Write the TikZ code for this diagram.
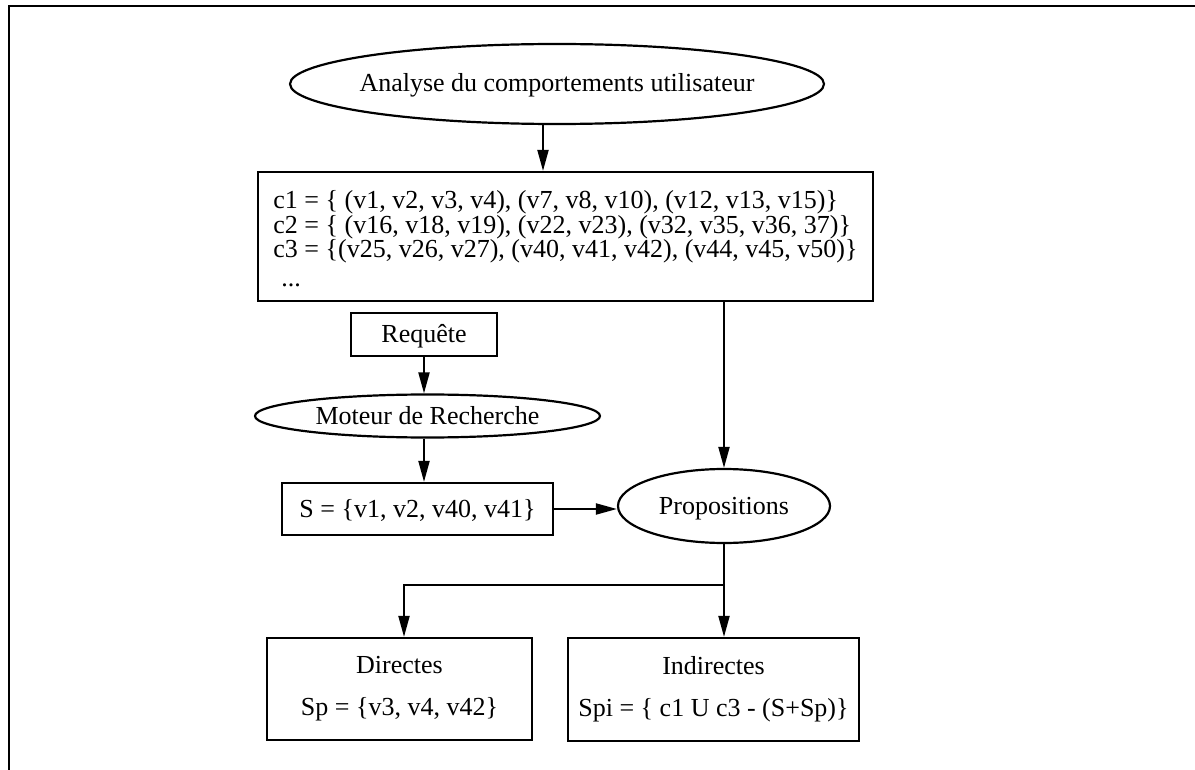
\documentclass[tikz,border=0pt]{standalone}
\usepackage{fontspec}
\setmainfont{Liberation Serif}
\usetikzlibrary{arrows.meta,shapes.geometric}

\begin{document}
\begin{tikzpicture}[x=1pt,y=-1pt,
  every node/.style={font=\fontsize{26}{22}\selectfont, inner sep=0pt},
  oneline/.style={text height=20pt, text depth=4pt},
  boxnode/.style={draw, rectangle, line width=2.2pt},
  ovalnode/.style={draw, ellipse, line width=2.2pt, oneline},
  arr/.style={-{Triangle[length=21pt,width=11pt]}, line width=2pt},
  link/.style={line width=2pt}]
\useasboundingbox (0,0) rectangle (1195,770);

% outer frame (top and left edges only)
\draw[line width=2.8pt] (9,770) -- (9,6) -- (1195,6);

% nodes
\node[ovalnode, minimum width=534, minimum height=80] (ana) at (557,84)
  {\makebox[0pt]{Analyse du comportements utilisateur}};
\node[boxnode, minimum width=615, minimum height=129, align=left,
      font=\fontsize{26}{23.5}\selectfont] (clu) at (565.5,236.5)
  {\rule{0pt}{23pt}c1 = \{ (v1, v2, v3, v4), (v7, v8, v10), (v12, v13, v15)\}\\
   c2 = \{ (v16, v18, v19), (v22, v23), (v32, v35, v36, 37)\}\\
   c3 = \{(v25, v26, v27), (v40, v41, v42), (v44, v45, v50)\}\\[5.5pt]
   \hspace*{8pt}...};
\node[boxnode, oneline, minimum width=146, minimum height=43] (req) at (424,334.5) {Requête};
\node[ovalnode, minimum width=345, minimum height=43] (mot) at (427.5,416)
  {\makebox[0pt]{Moteur de Recherche}};
\node[boxnode, oneline, minimum width=271, minimum height=52] (s) at (417.5,509)
  {S = \{v1, v2, v40, v41\}};
\node[ovalnode, minimum width=212, minimum height=74] (prop) at (724,506)
  {\makebox[0pt]{Propositions}};
\node[boxnode, minimum width=265, minimum height=102, align=center] (dir) at (399.5,689)
  {Directes\\[20pt]Sp = \{v3, v4, v42\}\rule[-6pt]{0pt}{6pt}};
\node[boxnode, minimum width=291, minimum height=103, align=center] (ind) at (713.5,689.5)
  {Indirectes\\[20pt]Spi = \{ c1 U c3 - (S+Sp)\}\rule[-6pt]{0pt}{6pt}};

\coordinate (split) at (724,585);

% connectors
\draw[arr] ([xshift=-14pt]ana.south) -- ([xshift=-22.5pt]clu.north);
\draw[arr] (clu.south -| prop.north) -- (prop.north);
\draw[arr] (req.south) -- (req.south |- mot.north);
\draw[arr] (req.south |- mot.south) -- (req.south |- s.north);
\draw[arr] (s.east) -- (prop.west |- s.east);
\draw[link] (prop.south) -- (split);
\draw[arr] (split) -| ([xshift=4.5pt]dir.north);
\draw[arr] (split) -- (split |- ind.north);
\end{tikzpicture}
\end{document}
